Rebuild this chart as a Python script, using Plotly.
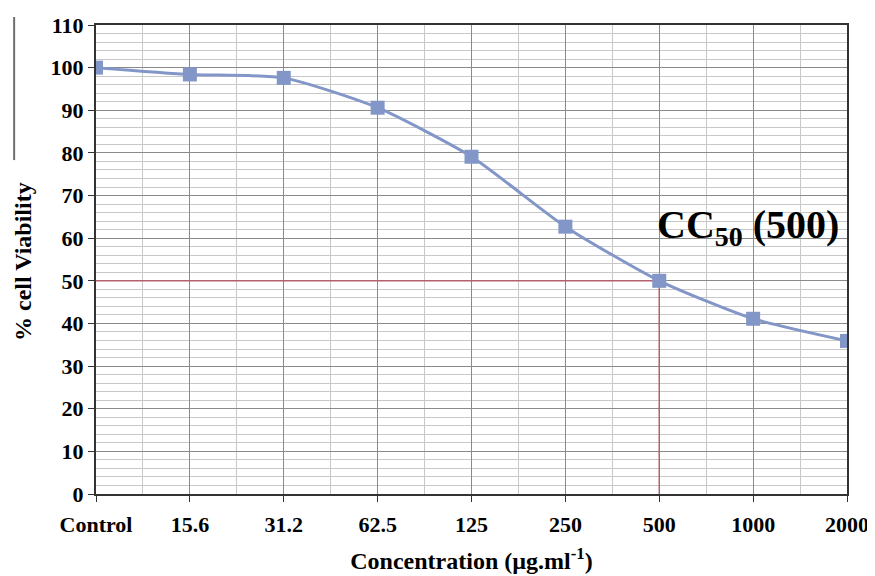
import plotly.graph_objects as go

categories = ["Control", "15.6", "31.2", "62.5", "125", "250", "500", "1000", "2000"]
viability = [100, 98.4, 97.6, 90.6, 79.1, 62.7, 50.0, 41.1, 35.9]
cc50_value = 50
cc50_label = "500"
y_ticks = list(range(0, 111, 10))

xpos = list(range(len(categories)))
cc50_idx = categories.index(cc50_label)

SERIF = "Liberation Serif"
fig = go.Figure()

# CC50 guide lines
fig.add_trace(go.Scatter(
    x=[xpos[0], xpos[cc50_idx], xpos[cc50_idx]],
    y=[cc50_value, cc50_value, 0],
    mode="lines", line=dict(color="#B5606E", width=1.5),
    hoverinfo="skip", showlegend=False))

fig.add_trace(go.Scatter(
    x=xpos, y=viability, mode="lines+markers",
    line=dict(color="#8396C8", width=3, shape="spline", smoothing=0.6),
    marker=dict(symbol="square", size=14, color="#8396C8"),
    showlegend=False))

fig.add_annotation(
    x=6.95, y=62.6, xref="x", yref="y",
    text="<b>CC<sub>50</sub> (500)</b>", showarrow=False,
    font=dict(family=SERIF, size=40, color="black"))

# y-axis title
fig.add_annotation(
    x=-0.097, y=0.495, xref="paper", yref="paper",
    text="<b>% cell Viability</b>", showarrow=False, textangle=-90,
    xanchor="center", yanchor="middle",
    font=dict(family=SERIF, size=24, color="black"))

# stray vertical line at left edge of the image
fig.add_shape(type="line", xref="paper", yref="paper",
              x0=-0.109, x1=-0.109, y0=0.712, y1=1.017,
              line=dict(color="#6e6e6e", width=2))

fig.update_layout(
    width=867, height=568,
    margin=dict(l=88, r=28, t=17, b=82),
    paper_bgcolor="white", plot_bgcolor="white",
    font=dict(family=SERIF, color="black"),
)
fig.update_xaxes(
    automargin=False,
    range=[0, len(categories) - 1],
    tickvals=xpos, ticktext=[f"<b>{c}</b>" for c in categories],
    tickfont=dict(family=SERIF, size=22, color="black"),
    ticklabelstandoff=4,
    showgrid=True, gridcolor="#8a8a8a", gridwidth=1,
    minor=dict(dtick=0.5, tick0=0, showgrid=True, gridcolor="#c8c8c8", gridwidth=1, ticks=""),
    ticks="outside", ticklen=6, tickcolor="#333333",
    showline=True, linecolor="#333333", linewidth=2, mirror=True,
    zeroline=False,
    title=dict(text="<b>Concentration (µg.ml<sup>-1</sup>)</b>",
               font=dict(family=SERIF, size=24, color="black"), standoff=16),
)
fig.update_yaxes(
    automargin=False,
    range=[0, 110], tickvals=y_ticks, ticktext=[f"<b>{v}</b>" for v in y_ticks],
    tickfont=dict(family=SERIF, size=22, color="black"),
    showgrid=True, gridcolor="#8a8a8a", gridwidth=1,
    minor=dict(dtick=2, tick0=0, showgrid=True, gridcolor="#c8c8c8", gridwidth=1, ticks=""),
    ticks="outside", ticklen=6, tickcolor="#333333",
    showline=True, linecolor="#333333", linewidth=2, mirror=True,
    zeroline=False,
)

fig.write_html("out.html")
